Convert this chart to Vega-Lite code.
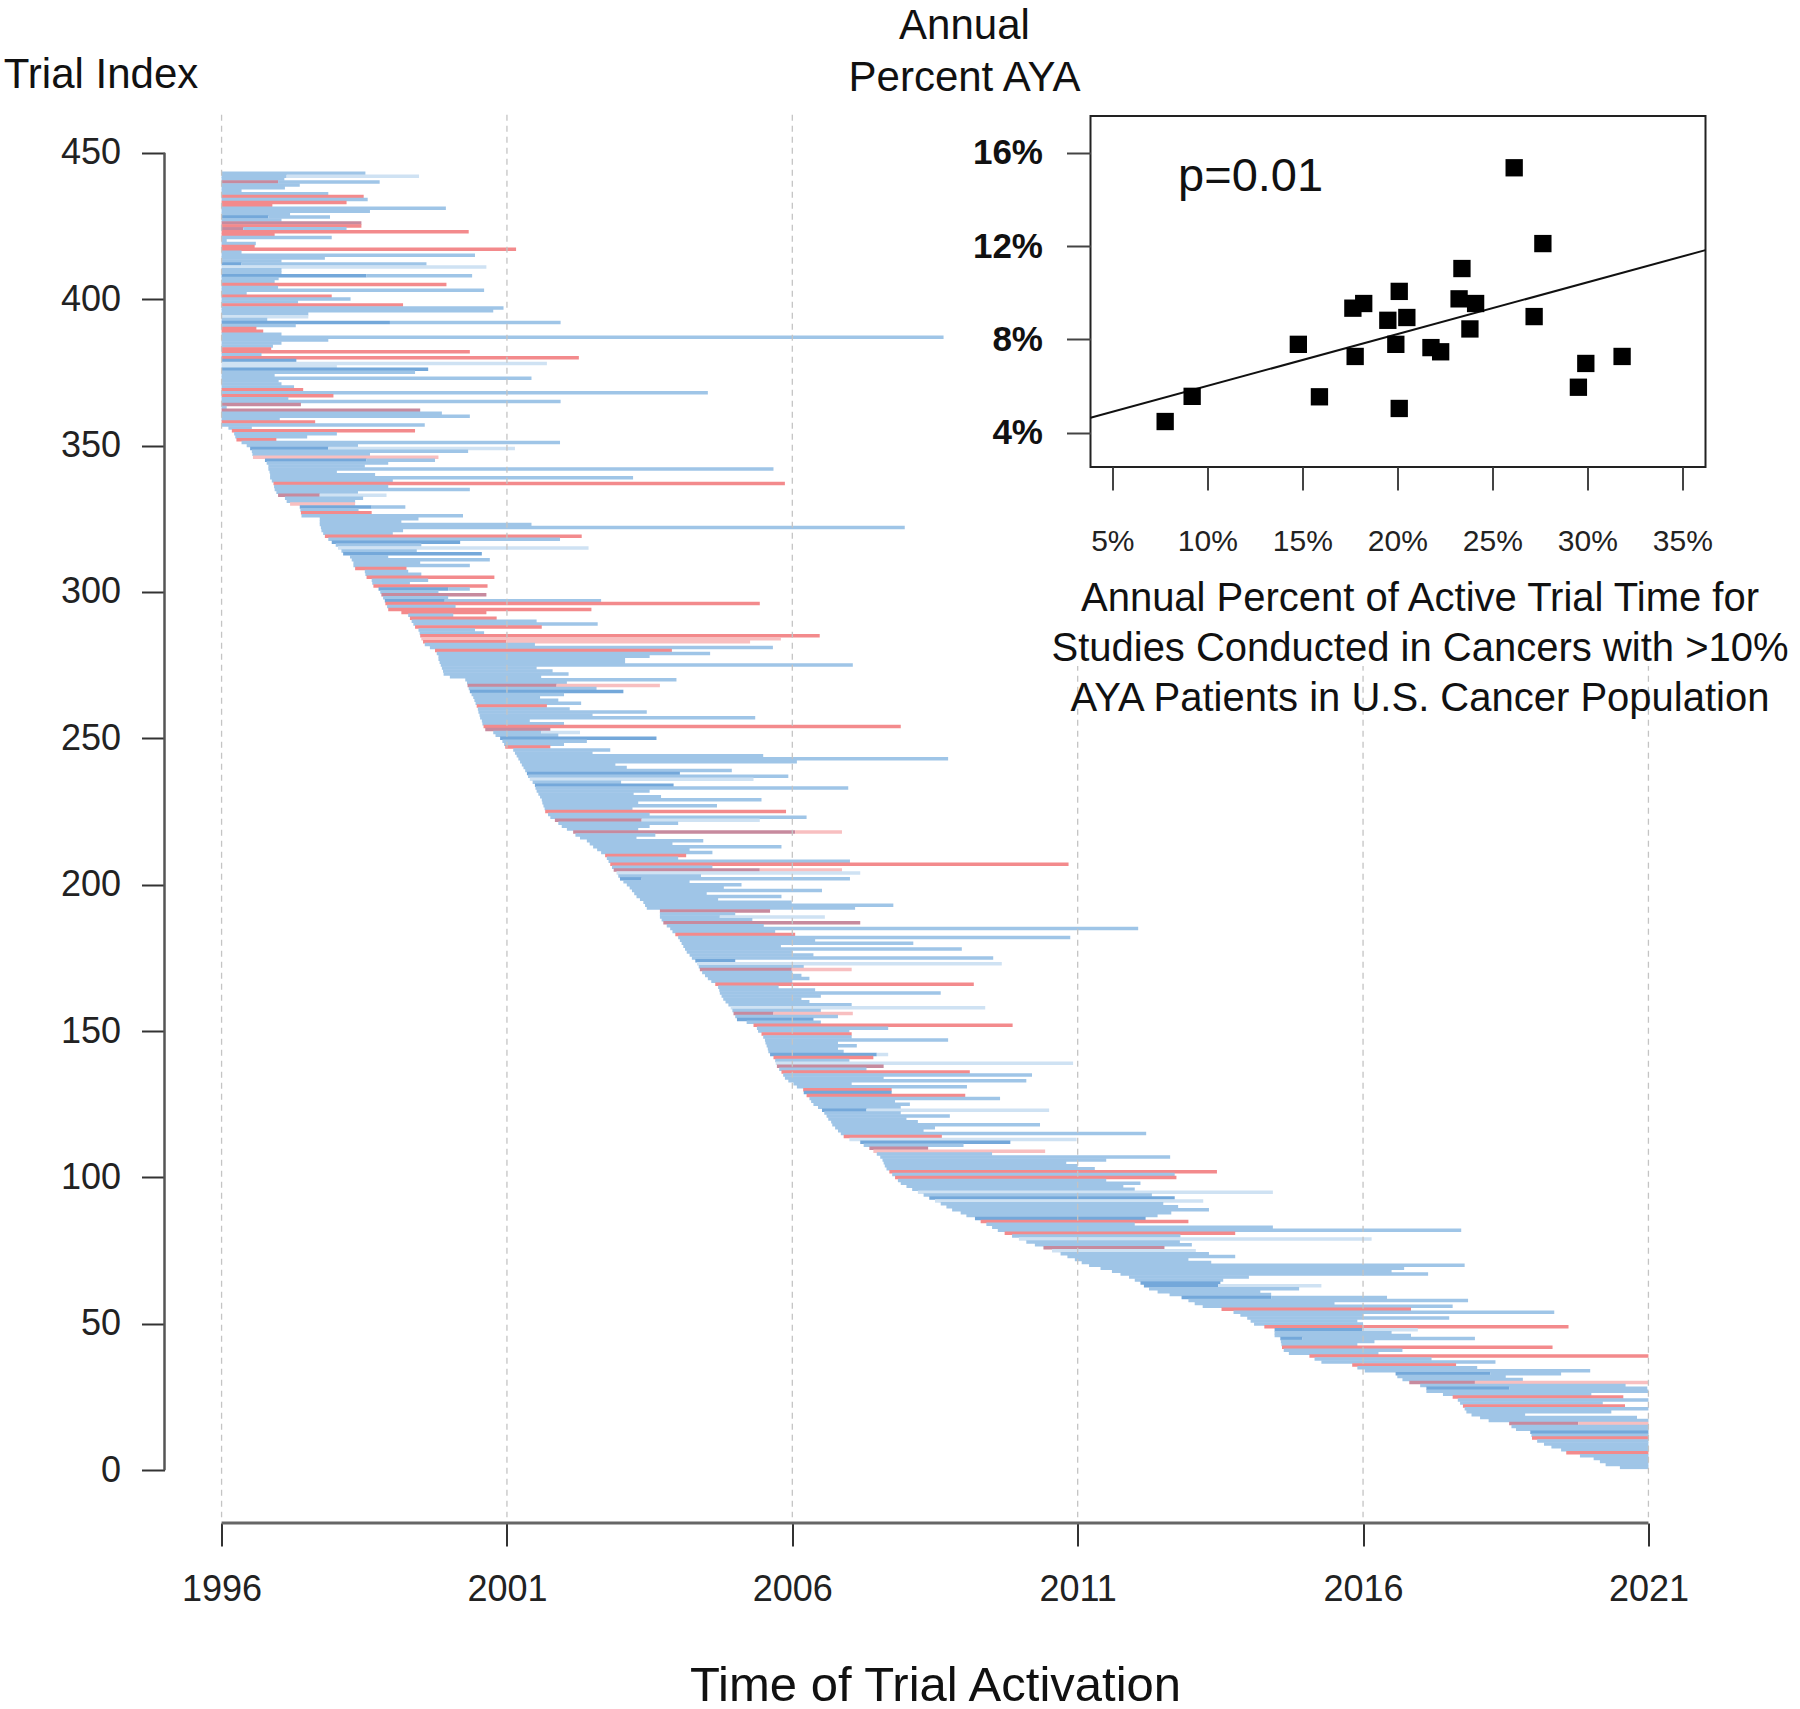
{
"$schema":"https://vega.github.io/schema/vega-lite/v6.json",
"width":1541,"height":1423,
"autosize":{"type":"none"},
"padding":{"left":164.5,"top":100,"right":94.5,"bottom":186},
"background":"white",
"config":{"view":{"stroke":null},"font":"Liberation Sans"},
"datasets":{
"trials":[
{"i":443,"s":1996,"e":1998.52,"c":"b"},{"i":442,"s":1996,"e":1997.14,"c":"b"},{"i":442,"s":1997.14,"e":1999.46,"c":"l"},{"i":441,"s":1996,"e":1997.1,"c":"b"},{"i":440,"s":1996,"e":1996.99,"c":"m"},{"i":440,"s":1996.99,"e":1998.77,"c":"b"},{"i":439,"s":1996,"e":1997.37,"c":"b"},{"i":438,"s":1996,"e":1997.11,"c":"b"},{"i":437,"s":1996,"e":1996.35,"c":"b"},{"i":436,"s":1996,"e":1997.87,"c":"b"},{"i":435,"s":1996,"e":1998.49,"c":"r"},{"i":434,"s":1996,"e":1998.56,"c":"b"},{"i":433,"s":1996,"e":1998.19,"c":"r"},{"i":432,"s":1996,"e":1996.89,"c":"r"},{"i":431,"s":1996,"e":1999.93,"c":"b"},{"i":430,"s":1996,"e":1998.6,"c":"b"},{"i":429,"s":1996,"e":1997.2,"c":"b"},{"i":428,"s":1996,"e":1996.82,"c":"d"},{"i":428,"s":1996.82,"e":1997.9,"c":"b"},{"i":427,"s":1996,"e":1997.05,"c":"b"},{"i":426,"s":1996,"e":1998.45,"c":"m"},{"i":425,"s":1996,"e":1998.45,"c":"r"},{"i":424,"s":1996,"e":1996.38,"c":"m"},{"i":424,"s":1996.38,"e":1998.19,"c":"b"},{"i":423,"s":1996,"e":2000.33,"c":"r"},{"i":422,"s":1996,"e":1996.93,"c":"r"},{"i":421,"s":1996,"e":1997.93,"c":"b"},{"i":420,"s":1996,"e":1996.09,"c":"b"},{"i":419,"s":1996,"e":1996.6,"c":"b"},{"i":418,"s":1996,"e":1996.58,"c":"r"},{"i":417,"s":1996,"e":2001.16,"c":"r"},{"i":416,"s":1996,"e":1996.35,"c":"b"},{"i":415,"s":1996,"e":2000.44,"c":"b"},{"i":414,"s":1996,"e":1997.81,"c":"b"},{"i":413,"s":1996,"e":1997.05,"c":"b"},{"i":412,"s":1996,"e":1996.35,"c":"d"},{"i":412,"s":1996.35,"e":1999.59,"c":"b"},{"i":411,"s":1996,"e":2000.64,"c":"l"},{"i":410,"s":1996,"e":1997.05,"c":"b"},{"i":409,"s":1996,"e":1997.05,"c":"b"},{"i":408,"s":1996,"e":1998.54,"c":"d"},{"i":408,"s":1998.54,"e":2000.39,"c":"b"},{"i":407,"s":1996,"e":1997,"c":"b"},{"i":406,"s":1996,"e":1996.93,"c":"b"},{"i":405,"s":1996,"e":1999.94,"c":"r"},{"i":404,"s":1996,"e":1996.99,"c":"b"},{"i":403,"s":1996,"e":2000.6,"c":"b"},{"i":402,"s":1996,"e":1996.44,"c":"b"},{"i":401,"s":1996,"e":1997.93,"c":"r"},{"i":400,"s":1996,"e":1998.26,"c":"b"},{"i":399,"s":1996,"e":1997.34,"c":"b"},{"i":398,"s":1996,"e":1999.18,"c":"r"},{"i":397,"s":1996,"e":2000.94,"c":"b"},{"i":396,"s":1996,"e":2000.76,"c":"b"},{"i":395,"s":1996,"e":1997.52,"c":"b"},{"i":394,"s":1996,"e":1997.52,"c":"l"},{"i":393,"s":1996,"e":1996.8,"c":"b"},{"i":392,"s":1996,"e":1998.95,"c":"d"},{"i":392,"s":1998.95,"e":2001.94,"c":"b"},{"i":391,"s":1996,"e":1997.3,"c":"b"},{"i":390,"s":1996,"e":1996.61,"c":"r"},{"i":389,"s":1996,"e":1996.73,"c":"r"},{"i":388,"s":1996,"e":1997.05,"c":"b"},{"i":387,"s":1996,"e":2008.65,"c":"b"},{"i":386,"s":1996,"e":1997.87,"c":"b"},{"i":385,"s":1996,"e":1997.05,"c":"b"},{"i":384,"s":1996,"e":1996.9,"c":"b"},{"i":383,"s":1996,"e":1996.87,"c":"r"},{"i":382,"s":1996,"e":2000.35,"c":"r"},{"i":381,"s":1996,"e":1996.7,"c":"b"},{"i":380,"s":1996,"e":2002.26,"c":"r"},{"i":379,"s":1996,"e":1997.31,"c":"d"},{"i":378,"s":1996,"e":2001.7,"c":"l"},{"i":377,"s":1996,"e":1998.02,"c":"l"},{"i":376,"s":1996,"e":1999.62,"c":"d"},{"i":375,"s":1996,"e":1999.39,"c":"b"},{"i":374,"s":1996,"e":1996.93,"c":"b"},{"i":373,"s":1996,"e":2001.43,"c":"b"},{"i":372,"s":1996,"e":1997,"c":"b"},{"i":371,"s":1996,"e":1997.05,"c":"b"},{"i":370,"s":1996,"e":1997.27,"c":"b"},{"i":369,"s":1996,"e":1997.43,"c":"r"},{"i":368,"s":1996,"e":2004.52,"c":"b"},{"i":367,"s":1996,"e":1997.96,"c":"r"},{"i":366,"s":1996,"e":1997.17,"c":"b"},{"i":365,"s":1996,"e":2001.94,"c":"b"},{"i":364,"s":1996,"e":1997.39,"c":"m"},{"i":363,"s":1996,"e":1996.09,"c":"b"},{"i":362,"s":1996,"e":1999.48,"c":"m"},{"i":361,"s":1996,"e":1999.86,"c":"b"},{"i":360,"s":1996,"e":2000.35,"c":"b"},{"i":359,"s":1996,"e":1997.02,"c":"b"},{"i":358,"s":1996,"e":1997.64,"c":"r"},{"i":357,"s":1996,"e":1999.56,"c":"b"},
{"i":356,"s":1996.12,"e":1996.53,"c":"b"},{"i":355,"s":1996.18,"e":1999.39,"c":"r"},{"i":354,"s":1996.22,"e":1998.02,"c":"b"},{"i":353,"s":1996.24,"e":1997.5,"c":"b"},{"i":352,"s":1996.26,"e":1996.96,"c":"r"},{"i":351,"s":1996.35,"e":2001.93,"c":"b"},{"i":350,"s":1996.44,"e":1998.39,"c":"b"},{"i":349,"s":1996.5,"e":1997.87,"c":"d"},{"i":349,"s":1997.87,"e":2001.14,"c":"l"},{"i":348,"s":1996.53,"e":2000.32,"c":"b"},{"i":347,"s":1996.54,"e":1998.6,"c":"b"},{"i":346,"s":1996.55,"e":1999.8,"c":"p"},{"i":345,"s":1996.76,"e":1998.54,"c":"d"},{"i":345,"s":1998.54,"e":1999.74,"c":"b"},{"i":344,"s":1996.79,"e":1998.92,"c":"b"},{"i":343,"s":1996.82,"e":1998.51,"c":"b"},{"i":342,"s":1996.82,"e":2005.67,"c":"b"},{"i":341,"s":1996.84,"e":1998.02,"c":"b"},{"i":340,"s":1996.85,"e":1998.69,"c":"b"},{"i":339,"s":1996.85,"e":2003.21,"c":"b"},{"i":338,"s":1996.88,"e":1999,"c":"b"},{"i":337,"s":1996.91,"e":2005.87,"c":"r"},{"i":336,"s":1996.92,"e":1998.92,"c":"b"},{"i":335,"s":1996.93,"e":2000.35,"c":"b"},{"i":334,"s":1996.96,"e":1998.39,"c":"b"},{"i":333,"s":1996.99,"e":1997.72,"c":"m"},{"i":333,"s":1997.72,"e":1998.89,"c":"l"},{"i":332,"s":1997.11,"e":1998.48,"c":"b"},{"i":331,"s":1997.14,"e":1998.34,"c":"b"},{"i":330,"s":1997.2,"e":1998.34,"c":"p"},{"i":329,"s":1997.37,"e":1998.63,"c":"d"},{"i":329,"s":1998.63,"e":1999.22,"c":"b"},{"i":328,"s":1997.38,"e":1998.4,"c":"b"},{"i":327,"s":1997.39,"e":1998.63,"c":"r"},{"i":326,"s":1997.4,"e":2000.23,"c":"b"},{"i":325,"s":1997.72,"e":1999.45,"c":"b"},{"i":324,"s":1997.72,"e":1999.15,"c":"b"},{"i":323,"s":1997.72,"e":2001.43,"c":"b"},{"i":322,"s":1997.74,"e":2007.97,"c":"b"},{"i":321,"s":1997.75,"e":1999.18,"c":"b"},{"i":320,"s":1997.78,"e":1999,"c":"b"},{"i":319,"s":1997.81,"e":2002.31,"c":"r"},{"i":318,"s":1997.87,"e":2001.93,"c":"b"},{"i":317,"s":1997.93,"e":2000.18,"c":"d"},{"i":316,"s":1998,"e":1999.5,"c":"b"},{"i":315,"s":1998.04,"e":2002.43,"c":"l"},{"i":314,"s":1998.1,"e":1999.42,"c":"b"},{"i":313,"s":1998.13,"e":2000.56,"c":"d"},{"i":312,"s":1998.25,"e":1998.92,"c":"b"},{"i":311,"s":1998.28,"e":2000.7,"c":"b"},{"i":310,"s":1998.31,"e":1999.48,"c":"b"},{"i":309,"s":1998.31,"e":2000.35,"c":"b"},{"i":308,"s":1998.34,"e":1999.24,"c":"r"},{"i":307,"s":1998.51,"e":1999.27,"c":"b"},{"i":306,"s":1998.52,"e":1999.5,"c":"b"},{"i":305,"s":1998.54,"e":2000.78,"c":"r"},{"i":304,"s":1998.63,"e":1999.62,"c":"b"},{"i":303,"s":1998.64,"e":1999.3,"c":"b"},{"i":302,"s":1998.66,"e":2000.66,"c":"r"},{"i":301,"s":1998.75,"e":1999.97,"c":"d"},{"i":301,"s":1999.97,"e":2000.35,"c":"b"},{"i":300,"s":1998.78,"e":1999.8,"c":"b"},{"i":299,"s":1998.8,"e":2000.64,"c":"m"},{"i":298,"s":1998.83,"e":1999.97,"c":"b"},{"i":297,"s":1998.86,"e":1999.91,"c":"d"},{"i":297,"s":1999.91,"e":2002.65,"c":"b"},{"i":296,"s":1998.87,"e":2005.43,"c":"r"},{"i":295,"s":1998.9,"e":2000.1,"c":"b"},{"i":294,"s":1998.92,"e":2002.48,"c":"r"},{"i":293,"s":1999.15,"e":2000.64,"c":"r"},{"i":292,"s":1999.27,"e":2000.06,"c":"b"},{"i":291,"s":1999.3,"e":2000.82,"c":"r"},{"i":290,"s":1999.33,"e":2001.52,"c":"b"},{"i":289,"s":1999.36,"e":2002.59,"c":"b"},{"i":288,"s":1999.39,"e":2001.61,"c":"r"},{"i":287,"s":1999.45,"e":2000.44,"c":"b"},{"i":286,"s":1999.47,"e":2000.6,"c":"b"},{"i":285,"s":1999.48,"e":2006.48,"c":"r"},{"i":284,"s":1999.5,"e":2005.8,"c":"p"},{"i":283,"s":1999.53,"e":2000.99,"c":"r"},{"i":283,"s":2000.99,"e":2005.26,"c":"p"},{"i":282,"s":1999.56,"e":2001.49,"c":"b"},{"i":281,"s":1999.65,"e":2005.66,"c":"b"},{"i":280,"s":1999.74,"e":2003.89,"c":"r"},
{"i":279,"s":1999.77,"e":2004.56,"c":"b"},{"i":278,"s":1999.8,"e":2003.5,"c":"b"},{"i":277,"s":1999.8,"e":2003.07,"c":"b"},{"i":276,"s":1999.82,"e":2003.07,"c":"b"},{"i":275,"s":1999.84,"e":2007.06,"c":"b"},{"i":274,"s":1999.86,"e":2001.52,"c":"b"},{"i":273,"s":1999.88,"e":2001.8,"c":"b"},{"i":272,"s":1999.89,"e":2002.08,"c":"b"},{"i":271,"s":2000,"e":2001.6,"c":"b"},{"i":270,"s":2000.27,"e":2003.97,"c":"b"},{"i":269,"s":2000.3,"e":2002.05,"c":"b"},{"i":268,"s":2000.31,"e":2001.87,"c":"m"},{"i":268,"s":2001.87,"e":2003.68,"c":"p"},{"i":267,"s":2000.33,"e":2002.57,"c":"b"},{"i":266,"s":2000.35,"e":2003.04,"c":"d"},{"i":265,"s":2000.38,"e":2002,"c":"b"},{"i":264,"s":2000.41,"e":2001.58,"c":"b"},{"i":263,"s":2000.43,"e":2001.9,"c":"b"},{"i":262,"s":2000.45,"e":2002.3,"c":"b"},{"i":261,"s":2000.47,"e":2001.7,"c":"r"},{"i":260,"s":2000.49,"e":2002.1,"c":"b"},{"i":259,"s":2000.5,"e":2003.45,"c":"b"},{"i":258,"s":2000.52,"e":2002.5,"c":"b"},{"i":257,"s":2000.53,"e":2005.35,"c":"b"},{"i":256,"s":2000.56,"e":2001.4,"c":"b"},{"i":255,"s":2000.57,"e":2002,"c":"b"},{"i":254,"s":2000.59,"e":2007.9,"c":"r"},{"i":253,"s":2000.62,"e":2001.76,"c":"m"},{"i":252,"s":2000.76,"e":2001.6,"c":"b"},{"i":252,"s":2001.6,"e":2002.28,"c":"l"},{"i":251,"s":2000.8,"e":2001.9,"c":"b"},{"i":250,"s":2000.88,"e":2003.62,"c":"d"},{"i":249,"s":2000.92,"e":2002.4,"c":"b"},{"i":248,"s":2000.95,"e":2002,"c":"b"},{"i":247,"s":2000.97,"e":2001.76,"c":"r"},{"i":246,"s":2001.11,"e":2002.81,"c":"b"},{"i":245,"s":2001.14,"e":2002.5,"c":"b"},{"i":244,"s":2001.17,"e":2005.49,"c":"b"},{"i":243,"s":2001.2,"e":2008.73,"c":"b"},{"i":242,"s":2001.23,"e":2006.08,"c":"b"},{"i":241,"s":2001.26,"e":2002.9,"c":"b"},{"i":240,"s":2001.29,"e":2003.1,"c":"b"},{"i":239,"s":2001.32,"e":2004.94,"c":"b"},{"i":238,"s":2001.35,"e":2004.03,"c":"d"},{"i":237,"s":2001.37,"e":2005.93,"c":"b"},{"i":236,"s":2001.4,"e":2005.32,"c":"l"},{"i":235,"s":2001.45,"e":2003,"c":"b"},{"i":234,"s":2001.49,"e":2003.92,"c":"d"},{"i":233,"s":2001.5,"e":2006.98,"c":"b"},{"i":232,"s":2001.52,"e":2003.5,"c":"b"},{"i":231,"s":2001.55,"e":2003.22,"c":"b"},{"i":230,"s":2001.58,"e":2003.7,"c":"b"},{"i":229,"s":2001.61,"e":2005.46,"c":"b"},{"i":228,"s":2001.62,"e":2003.3,"c":"b"},{"i":227,"s":2001.64,"e":2004.68,"c":"b"},{"i":226,"s":2001.66,"e":2003.2,"c":"b"},{"i":225,"s":2001.67,"e":2005.89,"c":"r"},{"i":224,"s":2001.72,"e":2003.5,"c":"b"},{"i":223,"s":2001.76,"e":2006.25,"c":"b"},{"i":222,"s":2001.84,"e":2003.36,"c":"m"},{"i":222,"s":2003.36,"e":2005.43,"c":"l"},{"i":221,"s":2001.9,"e":2004,"c":"b"},{"i":220,"s":2001.96,"e":2003.5,"c":"b"},{"i":219,"s":2002.05,"e":2003.3,"c":"b"},{"i":218,"s":2002.16,"e":2006.05,"c":"m"},{"i":218,"s":2006.05,"e":2006.87,"c":"p"},{"i":217,"s":2002.2,"e":2003.6,"c":"b"},{"i":216,"s":2002.28,"e":2003.27,"c":"b"},{"i":215,"s":2002.4,"e":2004.44,"c":"b"},{"i":214,"s":2002.45,"e":2003.9,"c":"b"},{"i":213,"s":2002.51,"e":2005.81,"c":"b"},{"i":212,"s":2002.58,"e":2004.2,"c":"b"},{"i":211,"s":2002.65,"e":2004.6,"c":"b"},{"i":210,"s":2002.72,"e":2004.14,"c":"r"},{"i":209,"s":2002.75,"e":2004,"c":"b"},{"i":208,"s":2002.78,"e":2007.01,"c":"b"},{"i":207,"s":2002.81,"e":2010.84,"c":"r"},{"i":206,"s":2002.84,"e":2004.6,"c":"b"},{"i":205,"s":2002.87,"e":2005.43,"c":"m"},{"i":205,"s":2005.43,"e":2006.87,"c":"p"},{"i":204,"s":2002.92,"e":2007.19,"c":"l"},{"i":203,"s":2002.95,"e":2004.4,"c":"b"},{"i":202,"s":2002.98,"e":2003.36,"c":"d"},{"i":202,"s":2003.36,"e":2007.01,"c":"b"},{"i":201,"s":2003.04,"e":2004.2,"c":"b"},{"i":200,"s":2003.1,"e":2005.11,"c":"b"},{"i":199,"s":2003.15,"e":2004.8,"c":"b"},{"i":198,"s":2003.19,"e":2006.52,"c":"b"},{"i":197,"s":2003.23,"e":2004.5,"c":"b"},{"i":196,"s":2003.27,"e":2005.81,"c":"b"},{"i":195,"s":2003.33,"e":2004.7,"c":"b"},{"i":194,"s":2003.39,"e":2005.99,"c":"b"},{"i":193,"s":2003.42,"e":2007.77,"c":"b"},{"i":192,"s":2003.45,"e":2007.1,"c":"b"},{"i":191,"s":2003.68,"e":2005.61,"c":"m"},{"i":190,"s":2003.68,"e":2005,"c":"b"},{"i":189,"s":2003.68,"e":2004.73,"c":"b"},{"i":189,"s":2004.73,"e":2006.57,"c":"l"},{"i":188,"s":2003.71,"e":2005.3,"c":"b"},{"i":187,"s":2003.74,"e":2007.19,"c":"m"},{"i":186,"s":2003.8,"e":2005.5,"c":"b"},{"i":185,"s":2003.86,"e":2012.06,"c":"b"},{"i":184,"s":2003.9,"e":2005.7,"c":"b"},{"i":183,"s":2003.95,"e":2006.05,"c":"r"},{"i":182,"s":2004,"e":2010.87,"c":"b"},{"i":181,"s":2004.03,"e":2006.4,"c":"b"},{"i":180,"s":2004.06,"e":2008.12,"c":"b"},{"i":179,"s":2004.09,"e":2005.8,"c":"b"},{"i":178,"s":2004.12,"e":2008.97,"c":"b"},{"i":177,"s":2004.15,"e":2006,"c":"b"},{"i":176,"s":2004.2,"e":2006.37,"c":"b"},{"i":175,"s":2004.24,"e":2009.52,"c":"b"},{"i":174,"s":2004.3,"e":2005,"c":"d"},{"i":173,"s":2004.33,"e":2009.67,"c":"l"},{"i":172,"s":2004.36,"e":2006.2,"c":"b"},{"i":171,"s":2004.38,"e":2005.99,"c":"m"},{"i":171,"s":2005.99,"e":2007.04,"c":"p"},{"i":170,"s":2004.42,"e":2006,"c":"b"},{"i":169,"s":2004.47,"e":2006.16,"c":"b"},{"i":168,"s":2004.52,"e":2006.3,"c":"b"},{"i":167,"s":2004.58,"e":2006,"c":"b"},{"i":166,"s":2004.65,"e":2009.18,"c":"r"},{"i":165,"s":2004.7,"e":2005.76,"c":"b"},{"i":164,"s":2004.72,"e":2006.4,"c":"b"},{"i":163,"s":2004.73,"e":2008.6,"c":"b"},{"i":162,"s":2004.76,"e":2006.5,"c":"b"},{"i":161,"s":2004.79,"e":2006.16,"c":"b"},{"i":160,"s":2004.83,"e":2006.3,"c":"b"},{"i":159,"s":2004.88,"e":2007.04,"c":"b"},{"i":158,"s":2004.92,"e":2009.38,"c":"l"},{"i":157,"s":2004.95,"e":2006.5,"c":"b"},{"i":156,"s":2004.97,"e":2005.67,"c":"m"},{"i":156,"s":2005.67,"e":2007.06,"c":"p"},{"i":155,"s":2005,"e":2006.8,"c":"b"},{"i":154,"s":2005.03,"e":2006.37,"c":"d"},{"i":153,"s":2005.2,"e":2006.5,"c":"b"},{"i":152,"s":2005.32,"e":2009.86,"c":"r"},{"i":151,"s":2005.38,"e":2007.68,"c":"b"},{"i":150,"s":2005.4,"e":2007,"c":"b"},{"i":149,"s":2005.46,"e":2007.04,"c":"r"},{"i":148,"s":2005.49,"e":2007.04,"c":"b"},{"i":147,"s":2005.52,"e":2008.73,"c":"b"},{"i":146,"s":2005.53,"e":2006.8,"c":"b"},{"i":145,"s":2005.55,"e":2007.13,"c":"b"},{"i":144,"s":2005.57,"e":2006.8,"c":"b"},{"i":143,"s":2005.58,"e":2006.9,"c":"b"},{"i":142,"s":2005.61,"e":2007.48,"c":"d"},{"i":142,"s":2007.48,"e":2007.68,"c":"l"},{"i":141,"s":2005.67,"e":2007.42,"c":"r"},{"i":140,"s":2005.7,"e":2007,"c":"b"},{"i":139,"s":2005.71,"e":2010.92,"c":"l"},{"i":138,"s":2005.73,"e":2007.6,"c":"m"},{"i":137,"s":2005.77,"e":2007.3,"c":"b"},{"i":136,"s":2005.81,"e":2009.11,"c":"r"},{"i":135,"s":2005.84,"e":2010.2,"c":"b"},{"i":134,"s":2005.87,"e":2007.6,"c":"b"},{"i":133,"s":2005.93,"e":2010.1,"c":"b"},{"i":132,"s":2006.02,"e":2007.04,"c":"b"},{"i":131,"s":2006.08,"e":2009.06,"c":"b"},{"i":130,"s":2006.19,"e":2007.74,"c":"r"},{"i":129,"s":2006.2,"e":2007.74,"c":"d"},{"i":128,"s":2006.25,"e":2009.03,"c":"r"},{"i":127,"s":2006.3,"e":2009.64,"c":"b"},{"i":126,"s":2006.33,"e":2007.8,"c":"b"},{"i":125,"s":2006.37,"e":2008.06,"c":"b"},{"i":124,"s":2006.45,"e":2007.9,"c":"b"},{"i":123,"s":2006.52,"e":2007.3,"c":"d"},{"i":123,"s":2007.3,"e":2010.5,"c":"l"},{"i":122,"s":2006.56,"e":2007.9,"c":"b"},{"i":121,"s":2006.6,"e":2008.76,"c":"b"},{"i":120,"s":2006.63,"e":2008,"c":"b"},{"i":119,"s":2006.68,"e":2008.2,"c":"b"},{"i":118,"s":2006.7,"e":2010.34,"c":"b"},{"i":117,"s":2006.75,"e":2008.5,"c":"b"},{"i":116,"s":2006.8,"e":2008.3,"c":"b"},{"i":115,"s":2006.85,"e":2012.2,"c":"b"},{"i":114,"s":2006.9,"e":2008.62,"c":"r"},{"i":113,"s":2007,"e":2010.98,"c":"l"},{"i":112,"s":2007.19,"e":2009.82,"c":"d"},{"i":111,"s":2007.25,"e":2009,"c":"b"},{"i":110,"s":2007.35,"e":2008.38,"c":"m"},{"i":109,"s":2007.42,"e":2010.43,"c":"p"},{"i":108,"s":2007.48,"e":2009.5,"c":"b"},
{"i":107,"s":2007.54,"e":2012.62,"c":"b"},{"i":106,"s":2007.58,"e":2011.5,"c":"b"},{"i":105,"s":2007.6,"e":2010.8,"c":"b"},{"i":104,"s":2007.62,"e":2011,"c":"b"},{"i":103,"s":2007.65,"e":2011.3,"c":"b"},{"i":102,"s":2007.7,"e":2013.44,"c":"r"},{"i":101,"s":2007.75,"e":2012.7,"c":"b"},{"i":100,"s":2007.8,"e":2012.73,"c":"r"},{"i":99,"s":2007.85,"e":2011.5,"c":"b"},{"i":98,"s":2007.9,"e":2012.1,"c":"b"},{"i":97,"s":2008,"e":2011.8,"c":"b"},{"i":96,"s":2008.1,"e":2012,"c":"b"},{"i":95,"s":2008.2,"e":2014.42,"c":"l"},{"i":94,"s":2008.3,"e":2012.3,"c":"b"},{"i":93,"s":2008.4,"e":2012.7,"c":"d"},{"i":92,"s":2008.5,"e":2013.2,"c":"l"},{"i":91,"s":2008.6,"e":2012.5,"c":"b"},{"i":90,"s":2008.7,"e":2012.76,"c":"b"},{"i":89,"s":2008.8,"e":2013.3,"c":"b"},{"i":88,"s":2008.95,"e":2012.64,"c":"b"},{"i":87,"s":2009.05,"e":2012.4,"c":"b"},{"i":86,"s":2009.2,"e":2012.19,"c":"d"},{"i":85,"s":2009.3,"e":2012.94,"c":"r"},{"i":84,"s":2009.4,"e":2012,"c":"b"},{"i":83,"s":2009.5,"e":2014.42,"c":"b"},{"i":82,"s":2009.6,"e":2017.72,"c":"b"},{"i":81,"s":2009.72,"e":2013.76,"c":"r"},{"i":80,"s":2009.85,"e":2012.8,"c":"b"},{"i":79,"s":2009.97,"e":2016.15,"c":"l"},{"i":78,"s":2010.1,"e":2012.79,"c":"b"},{"i":77,"s":2010.25,"e":2013,"c":"b"},{"i":76,"s":2010.4,"e":2012.52,"c":"m"},{"i":75,"s":2010.55,"e":2013.07,"c":"l"},{"i":74,"s":2010.7,"e":2013.3,"c":"b"},{"i":73,"s":2010.82,"e":2013.76,"c":"b"},{"i":72,"s":2010.95,"e":2012.94,"c":"b"},{"i":71,"s":2011.07,"e":2013.34,"c":"b"},{"i":70,"s":2011.2,"e":2017.78,"c":"b"},{"i":69,"s":2011.4,"e":2016.72,"c":"b"},{"i":68,"s":2011.6,"e":2016.5,"c":"b"},{"i":67,"s":2011.75,"e":2017.14,"c":"b"},{"i":66,"s":2011.9,"e":2014,"c":"b"},{"i":65,"s":2012,"e":2013.55,"c":"b"},{"i":64,"s":2012.1,"e":2013.5,"c":"d"},{"i":63,"s":2012.16,"e":2013.46,"c":"d"},{"i":63,"s":2013.46,"e":2015.27,"c":"l"},{"i":62,"s":2012.25,"e":2014.88,"c":"b"},{"i":61,"s":2012.4,"e":2014.2,"c":"b"},{"i":60,"s":2012.61,"e":2014.39,"c":"b"},{"i":59,"s":2012.82,"e":2014.39,"c":"d"},{"i":59,"s":2014.39,"e":2016.42,"c":"b"},{"i":58,"s":2012.94,"e":2017.84,"c":"b"},{"i":57,"s":2013.05,"e":2015.5,"c":"b"},{"i":56,"s":2013.19,"e":2017.57,"c":"b"},{"i":55,"s":2013.52,"e":2016.84,"c":"r"},{"i":54,"s":2013.73,"e":2019.35,"c":"b"},{"i":53,"s":2013.85,"e":2016,"c":"b"},{"i":52,"s":2013.97,"e":2017.51,"c":"b"},{"i":51,"s":2014.03,"e":2015.9,"c":"b"},{"i":50,"s":2014.09,"e":2016,"c":"b"},{"i":49,"s":2014.27,"e":2019.6,"c":"r"},{"i":48,"s":2014.45,"e":2015.99,"c":"d"},{"i":48,"s":2015.99,"e":2016.96,"c":"l"},{"i":47,"s":2014.45,"e":2016.5,"c":"b"},{"i":46,"s":2014.45,"e":2016.84,"c":"b"},{"i":45,"s":2014.55,"e":2014.94,"c":"d"},{"i":45,"s":2014.94,"e":2017.96,"c":"b"},{"i":44,"s":2014.56,"e":2016.2,"c":"b"},{"i":43,"s":2014.57,"e":2015.9,"c":"b"},{"i":42,"s":2014.58,"e":2019.32,"c":"r"},{"i":41,"s":2014.61,"e":2016.69,"c":"b"},{"i":40,"s":2014.7,"e":2016.27,"c":"b"},{"i":39,"s":2015.06,"e":2021,"c":"r"},{"i":38,"s":2015.15,"e":2017.2,"c":"b"},{"i":37,"s":2015.27,"e":2018.32,"c":"b"},{"i":36,"s":2015.81,"e":2017.63,"c":"r"},{"i":35,"s":2015.9,"e":2018,"c":"b"},{"i":34,"s":2016.03,"e":2019.98,"c":"b"},{"i":33,"s":2016.57,"e":2018.23,"c":"d"},{"i":33,"s":2018.23,"e":2019.47,"c":"b"},{"i":32,"s":2016.6,"e":2018.5,"c":"b"},{"i":31,"s":2016.69,"e":2018.8,"c":"b"},{"i":30,"s":2016.81,"e":2017.96,"c":"m"},{"i":30,"s":2017.96,"e":2021,"c":"p"},{"i":29,"s":2017,"e":2020.6,"c":"b"},{"i":28,"s":2017.11,"e":2018.56,"c":"d"},{"i":28,"s":2018.56,"e":2020.98,"c":"b"},{"i":27,"s":2017.11,"e":2021,"c":"b"},{"i":26,"s":2017.4,"e":2020,"c":"b"},{"i":25,"s":2017.57,"e":2020.56,"c":"r"},{"i":24,"s":2017.66,"e":2021,"c":"b"},{"i":23,"s":2017.7,"e":2020.2,"c":"b"},{"i":22,"s":2017.75,"e":2020.59,"c":"r"},{"i":21,"s":2017.78,"e":2021,"c":"b"},{"i":20,"s":2017.81,"e":2020.35,"c":"b"},{"i":19,"s":2017.9,"e":2018.84,"c":"b"},{"i":18,"s":2018.05,"e":2020.8,"c":"b"},{"i":17,"s":2018.2,"e":2021,"c":"b"},{"i":16,"s":2018.56,"e":2019.77,"c":"m"},{"i":16,"s":2019.77,"e":2021,"c":"p"},{"i":15,"s":2018.6,"e":2021,"c":"b"},{"i":14,"s":2018.68,"e":2021,"c":"b"},{"i":13,"s":2018.93,"e":2021,"c":"d"},{"i":12,"s":2018.95,"e":2021,"c":"b"},{"i":11,"s":2018.96,"e":2021,"c":"r"},{"i":10,"s":2019.05,"e":2021,"c":"b"},{"i":9,"s":2019.17,"e":2021,"c":"b"},{"i":8,"s":2019.3,"e":2021,"c":"b"},{"i":7,"s":2019.47,"e":2021,"c":"b"},{"i":6,"s":2019.56,"e":2021,"c":"r"},{"i":5,"s":2019.8,"e":2021,"c":"b"},{"i":4,"s":2020.04,"e":2021,"c":"b"},{"i":3,"s":2020.15,"e":2021,"c":"b"},{"i":2,"s":2020.25,"e":2021,"c":"b"},{"i":1,"s":2020.5,"e":2021,"c":"b"}
],
"grid":[{"g":1996},{"g":2001},{"g":2006},{"g":2011},{"g":2016},{"g":2021}],
"pts":[
{"x":7.78,"y":4.48},{"x":9.2,"y":5.56},{"x":14.79,"y":7.79},{"x":15.9,"y":5.54},{"x":17.66,"y":9.34},{"x":18.23,"y":9.54},{"x":17.78,"y":7.27},{"x":19.5,"y":8.82},{"x":20.1,"y":10.06},{"x":20.5,"y":8.94},{"x":19.92,"y":7.79},{"x":20.1,"y":5.04},{"x":21.77,"y":7.65},{"x":22.28,"y":7.47},{"x":23.4,"y":11.04},{"x":23.25,"y":9.74},{"x":24.12,"y":9.54},{"x":23.82,"y":8.45},{"x":26.15,"y":15.36},{"x":27.66,"y":12.11},{"x":27.2,"y":8.98},{"x":29.53,"y":5.95},{"x":29.92,"y":6.97},{"x":31.83,"y":7.27}
],
"fit":[{"x":3.85,"y":4.64},{"x":36.22,"y":11.83}]
},
"layer":[
{"layer":[
 {"data":{"name":"trials"},
  "mark":{"type":"rule","strokeWidth":3.5},
  "encoding":{
   "x":{"field":"s","type":"quantitative","scale":{"domain":[1995,2022],"nice":false,"zero":false},
        "axis":{"orient":"bottom","values":[1996,2001,2006,2011,2016,2021],"format":"d","domain":false,"tickSize":23,"tickColor":"#333","tickWidth":2,"labelFontSize":36,"labelColor":"#222","labelPadding":26,"labelFlush":false,"labelOverlap":false,"grid":false,"title":"Time of Trial Activation","titleFontSize":49,"titleFontWeight":"normal","titleColor":"#111","titleX":770.5,"titleY":177,"titleAlign":"center","titleBaseline":"alphabetic"}},
   "x2":{"field":"e"},
   "y":{"field":"i","type":"quantitative","scale":{"domain":[-18,468],"nice":false,"zero":false},
        "axis":{"orient":"left","values":[0,50,100,150,200,250,300,350,400,450],"domain":false,"grid":false,"tickSize":23,"tickColor":"#333","tickWidth":2,"labelFontSize":36,"labelColor":"#222","labelPadding":21,"labelOverlap":false,"title":"Trial Index","titleAngle":0,"titleFontSize":42,"titleFontWeight":"normal","titleColor":"#111","titleX":-64,"titleY":-13,"titleAlign":"center","titleBaseline":"alphabetic"}},
   "color":{"field":"c","type":"nominal","scale":{"domain":["b","d","l","r","p","m"],"range":["#9fc5e7","#74a8da","#cfe2f3","#f38a8c","#f8bfc0","#c78a9e"]},"legend":null}
  }},
 {"data":{"name":"grid"},"mark":{"type":"rule","color":"#c4c4c4","strokeWidth":1.3,"strokeDash":[6,5]},"encoding":{"x":{"field":"g","type":"quantitative"},"y":{"datum":463},"y2":{"datum":-16}}},
 {"data":{"values":[{}]},"mark":{"type":"rule","color":"#555","strokeWidth":2.5},"encoding":{"x":{"datum":1995},"y":{"datum":0},"y2":{"datum":450}}},
 {"data":{"values":[{}]},"mark":{"type":"rule","color":"#666","strokeWidth":3},"encoding":{"x":{"datum":1996},"x2":{"datum":2021},"y":{"datum":-18}}}
]},
{"layer":[
 {"data":{"values":[{}]},
  "mark":{"type":"rect","color":"white","opacity":1},
  "encoding":{
   "x":{"datum":-3.3,"type":"quantitative","scale":{"domain":[3.85,36.22],"range":[926,1541],"nice":false,"zero":false},
        "axis":{"orient":"bottom","offset":-1056,"zindex":1,"values":[5,10,15,20,25,30,35],"labelExpr":"datum.value + '%'","domain":false,"grid":false,"tickSize":23,"tickColor":"#444","tickWidth":2,"labelFontSize":30,"labelColor":"#222","labelPadding":36,"labelFlush":false,"labelOverlap":false,"title":["Annual Percent of Active Trial Time for","Studies Conducted in Cancers with >10%","AYA Patients in U.S. Cancer Population"],"titleFontSize":40,"titleFontWeight":"normal","titleColor":"#111","titleX":1255,"titleY":143,"titleAlign":"center","titleBaseline":"alphabetic","titleLineHeight":50}},
   "x2":{"datum":45},
   "y":{"datum":-6,"type":"quantitative","scale":{"domain":[2.53,17.58],"range":[367,16],"nice":false,"zero":false},
        "axis":{"orient":"left","offset":-926,"zindex":1,"values":[4,8,12,16],"labelExpr":"datum.value + '%'","domain":false,"grid":false,"tickSize":24,"tickColor":"#444","tickWidth":2,"labelFontSize":35,"labelFontWeight":"bold","labelColor":"#111","labelPadding":24,"labelOverlap":false,"title":["Annual","Percent AYA"],"titleAngle":0,"titleFontSize":42,"titleFontWeight":"normal","titleColor":"#111","titleX":-126.5,"titleY":-62,"titleAlign":"center","titleBaseline":"alphabetic","titleLineHeight":52}},
   "y2":{"datum":23}
  }},
 {"data":{"values":[{}]},
  "mark":{"type":"rect","filled":false,"color":"#222","strokeWidth":2},
  "encoding":{"x":{"datum":3.85,"type":"quantitative"},"x2":{"datum":36.22},"y":{"datum":2.53,"type":"quantitative"},"y2":{"datum":17.58}}},
 {"data":{"name":"fit"},"mark":{"type":"line","color":"#111","strokeWidth":2},"encoding":{"x":{"field":"x","type":"quantitative"},"y":{"field":"y","type":"quantitative"}}},
 {"data":{"name":"pts"},"mark":{"type":"point","shape":"square","filled":true,"color":"#000","opacity":1,"size":300},"encoding":{"x":{"field":"x","type":"quantitative"},"y":{"field":"y","type":"quantitative"}}},
 {"data":{"values":[{}]},"mark":{"type":"text","text":"p=0.01","fontSize":47,"align":"left","baseline":"alphabetic","color":"#111"},"encoding":{"x":{"datum":8.46},"y":{"datum":14.38}}}
]}
],
"resolve":{"scale":{"x":"independent","y":"independent"}}
}
